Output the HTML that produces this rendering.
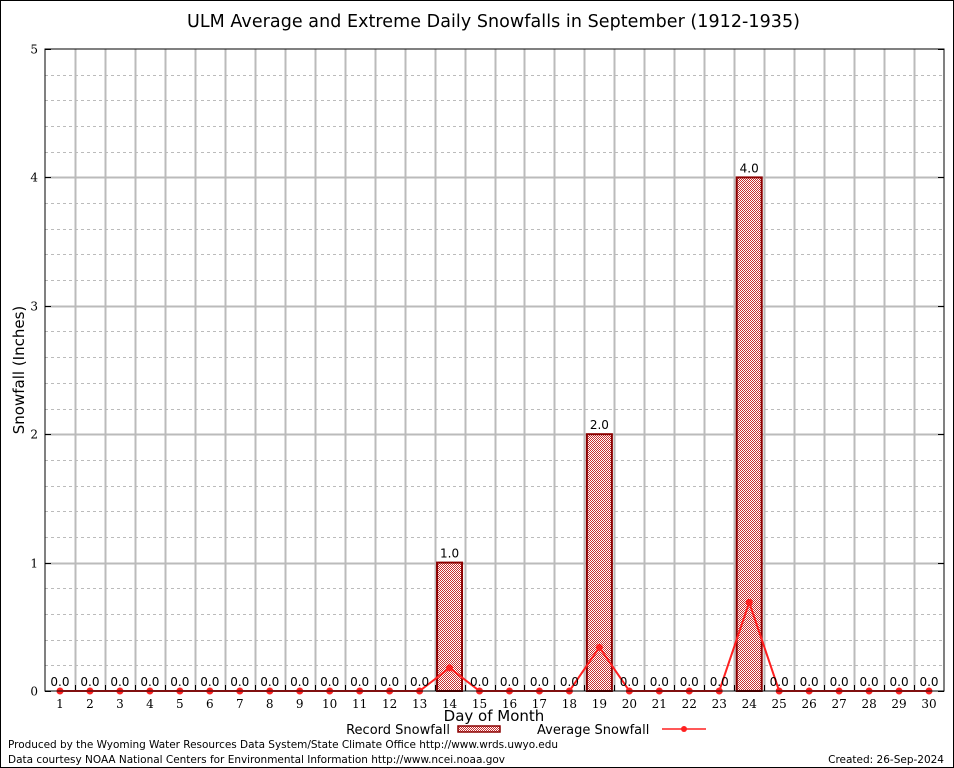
<!DOCTYPE html>
<html><head><meta charset="utf-8"><style>
body{margin:0;background:#fff}
svg{display:block}
text{font-family:"DejaVu Sans","Liberation Sans",sans-serif}
.serif{font-family:"DejaVu Serif","Liberation Serif",serif}
</style></head><body>
<svg id="c" width="954" height="768" viewBox="0 0 954 768" xmlns="http://www.w3.org/2000/svg">
<defs>
<pattern id="chk" width="2" height="2" patternUnits="userSpaceOnUse">
<rect width="2" height="2" fill="#fff"/><rect width="1" height="1" fill="#c83030"/><rect x="1" y="1" width="1" height="1" fill="#c83030"/>
</pattern>
</defs>
<rect x="0.5" y="0.5" width="953" height="767" fill="#fff" stroke="#000"/>
<text x="187" y="27" font-size="17.5" textLength="613">ULM Average and Extreme Daily Snowfalls in September (1912-1935)</text>
<g id="grid"></g>
<g id="bars"></g>
<g id="avg"></g>
<g id="labels"></g>
<rect x="45" y="49" width="899" height="642" fill="none" stroke="#000"/>
<text transform="translate(24,370) rotate(-90)" font-size="15" text-anchor="middle">Snowfall (Inches)</text>
<text x="494" y="721" font-size="15" text-anchor="middle">Day of Month</text>
<g>
<text x="450" y="734" font-size="13" text-anchor="end">Record Snowfall</text>
<rect x="458" y="726" width="42" height="6" fill="url(#chk)" stroke="#8b0000" stroke-width="1.5"/>
</g>
<g>
<text x="537" y="734" font-size="13">Average Snowfall</text>
<line x1="662" y1="729" x2="706" y2="729" stroke="#ff2020" stroke-width="1.5"/>
<circle cx="684" cy="729" r="3" fill="#ff2020"/>
</g>
<text x="8" y="748" font-size="10.5" textLength="550">Produced by the Wyoming Water Resources Data System/State Climate Office http://www.wrds.uwyo.edu</text>
<text x="8" y="763" font-size="10.5" textLength="497">Data courtesy NOAA National Centers for Environmental Information http://www.ncei.noaa.gov</text>
<text x="944" y="763" font-size="10.5" text-anchor="end">Created:  26-Sep-2024</text>
</svg>
<script>
const days=[1,2,3,4,5,6,7,8,9,10,11,12,13,14,15,16,17,18,19,20,21,22,23,24,25,26,27,28,29,30];
const recordSnow=[0,0,0,0,0,0,0,0,0,0,0,0,0,1,0,0,0,0,2,0,0,0,0,4,0,0,0,0,0,0];
const avgSnow=[0,0,0,0,0,0,0,0,0,0,0,0,0,0.18,0,0,0,0,0.34,0,0,0,0,0.69,0,0,0,0,0,0];
const yTicks=[0,1,2,3,4,5];
const NS="http://www.w3.org/2000/svg";
const X0=45,X1=944,Y0=691,Y1=49,YMAX=5;
const slot=(X1-X0)/days.length;
const xs=i=>X0+slot*(i+0.5);
const ys=v=>Y0-(v/YMAX)*(Y0-Y1);
function mk(tag,attrs,parent,txt){const e=document.createElementNS(NS,tag);for(const k in attrs)e.setAttribute(k,attrs[k]);if(txt!==undefined)e.textContent=txt;parent.appendChild(e);return e;}
const grid=document.getElementById('grid'),bars=document.getElementById('bars'),avg=document.getElementById('avg'),labels=document.getElementById('labels');
for(let v=0.2;v<YMAX;v+=0.2){if(Math.abs(v-Math.round(v))<1e-6)continue;const y=Math.round(ys(v))+0.5;
const l=mk('line',{x1:X0,x2:X1,y1:y,y2:y,stroke:'#bbb','stroke-dasharray':'3,3','stroke-width':1},grid);

}
yTicks.forEach(v=>{const y=Math.round(ys(v))+0.5;
if(v>0&&v<YMAX){const l=mk('line',{x1:X0,x2:X1,y1:y,y2:y,stroke:'#bbb','stroke-width':2},grid);

}
mk('line',{x1:X0,x2:X0+6,y1:y,y2:y,stroke:'#000'},grid);mk('line',{x1:X1-6,x2:X1,y1:y,y2:y,stroke:'#000'},grid);
const t=mk('text',{x:38,y:y+4,'font-size':12,'text-anchor':'end',class:'serif'},labels,String(v));

});
for(let i=1;i<days.length;i++){const x=Math.round(X0+slot*i)+0.5;
const l=mk('line',{x1:x,x2:x,y1:Y1,y2:Y0,stroke:'#bbb','stroke-width':2},grid);


mk('line',{x1:x,x2:x,y1:Y0-6,y2:Y0,stroke:'#000'},grid);}
days.forEach((d,i)=>{const x=xs(i);
const t=mk('text',{x:x,y:708,'font-size':12,'text-anchor':'middle',class:'serif'},labels,String(d));


const v=recordSnow[i];
if(v>0){const r=mk('rect',{x:x-12.5,y:ys(v),width:25,height:Y0-ys(v),fill:'url(#chk)',stroke:'#8b0000','stroke-width':2},bars);

}
const vl=mk('text',{x:x,y:ys(v)-5,'font-size':12,'text-anchor':'middle'},labels,v.toFixed(1));

});
const pts=avgSnow.map((v,i)=>xs(i)+','+ys(v)).join(' ');
const pl=mk('polyline',{points:pts,fill:'none',stroke:'#ff2020','stroke-width':2},avg);


avgSnow.forEach((v,i)=>{const c=mk('circle',{cx:xs(i),cy:ys(v),r:3.5,fill:'#ff2020'},avg);

});
</script>
</body></html>
